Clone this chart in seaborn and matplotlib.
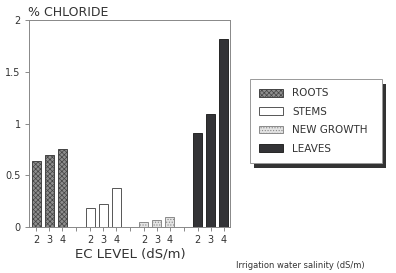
import matplotlib
matplotlib.use("Agg")
import matplotlib.pyplot as plt
from matplotlib.patches import Patch, Rectangle
import seaborn as sns
import pandas as pd

tissues = ["ROOTS", "STEMS", "NEW GROWTH", "LEAVES"]
ec_levels = ["2", "3", "4"]
roots = [0.64, 0.70, 0.75]
stems = [0.18, 0.22, 0.38]
new_growth = [0.05, 0.065, 0.10]
leaves = [0.91, 1.09, 1.82]
y_ticks = [0, 0.5, 1, 1.5, 2]
y_tick_labels = ["0", "0.5", "1", "1.5", "2"]

series = {"ROOTS": roots, "STEMS": stems, "NEW GROWTH": new_growth, "LEAVES": leaves}
rows = []
for t in tissues:
    for ec, v in zip(ec_levels, series[t]):
        rows.append({"tissue": t, "ec": ec, "value": v})
df = pd.DataFrame(rows)

styles = {
    "ROOTS": dict(facecolor="#8e8e8e", edgecolor="#444444", hatch="xxxxxxx"),
    "STEMS": dict(facecolor="white", edgecolor="#555555", hatch=None),
    "NEW GROWTH": dict(facecolor="#e4e4e4", edgecolor="#8a8a8a", hatch="......"),
    "LEAVES": dict(facecolor="#333336", edgecolor="#262626", hatch=None),
}

sns.set_style("white")
plt.rcParams["font.family"] = ["DejaVu Sans"]
plt.rcParams["hatch.linewidth"] = 0.5

fig = plt.figure(figsize=(3.96, 2.73), dpi=100)
ax = fig.add_axes([29 / 396, 1 - 227 / 273, (230 - 29) / 396, (227 - 20) / 273])

sns.barplot(data=df, x="tissue", y="value", hue="ec", order=tissues,
            hue_order=ec_levels, width=0.726, gap=0.31, legend=False, ax=ax)

centers = []
for p in ax.patches:
    cx = p.get_x() + p.get_width() / 2
    t = tissues[int(round(cx))]
    st = styles[t]
    p.set_facecolor(st["facecolor"])
    p.set_edgecolor(st["edgecolor"])
    p.set_linewidth(0.7)
    if st["hatch"]:
        p.set_hatch(st["hatch"])
    centers.append(cx)

order = sorted(range(len(centers)), key=lambda i: centers[i])
tick_pos = [centers[i] for i in order]
n = len(ec_levels)
tick_lab = [ec_levels[k % n] for k in range(len(tick_pos))]

ax.set_xlim(-0.38, 3.36)
ax.set_ylim(0, 2)
ax.set_xticks(tick_pos)
ax.set_xticklabels(tick_lab, fontsize=7, color="#333333")
ax.set_xticks([0.5, 1.5, 2.5], minor=True)
ax.set_yticks(y_ticks)
ax.set_yticklabels(y_tick_labels, fontsize=7, color="#333333")
ax.tick_params(axis="both", which="both", direction="out", length=3, width=0.6,
               color="#777777", bottom=True, left=True, pad=3)
ax.set_xlabel("")
ax.set_ylabel("")
for s in ax.spines.values():
    s.set_visible(True)
    s.set_color("#888888")
    s.set_linewidth(0.7)

fig.text(28 / 396, 1 - 12 / 273, "% CHLORIDE", fontsize=9, color="#333333",
         ha="left", va="center")
fig.text(130 / 396, 1 - 254 / 273, "EC LEVEL (dS/m)", fontsize=9.5, color="#333333",
         ha="center", va="center")
fig.text(300 / 396, 1 - 265 / 273, "Irrigation water salinity (dS/m)", fontsize=6,
         color="#333333", ha="center", va="center")

handles = [Patch(facecolor=styles[t]["facecolor"], edgecolor=styles[t]["edgecolor"],
                 hatch=styles[t]["hatch"], linewidth=0.7, label=t) for t in tissues]
x0, x1 = 250 / 396, 382 / 396
ytop = 1 - 79 / 273
leg = fig.legend(handles=handles, loc="upper left", mode="expand",
                 bbox_to_anchor=(x0, ytop - 0.3, x1 - x0, 0.3), bbox_transform=fig.transFigure,
                 fontsize=7.5, frameon=True, fancybox=False, framealpha=1,
                 borderpad=0.9, handlelength=2.3, handleheight=0.75, handletextpad=0.85,
                 labelspacing=0.81, borderaxespad=0)
leg.get_frame().set_edgecolor("#999999")
leg.get_frame().set_linewidth(0.7)
leg.get_frame().set_facecolor("white")
for txt in leg.get_texts():
    txt.set_color("#333333")

fig.canvas.draw()
bb = leg.get_window_extent()
shadow = Rectangle((bb.x0 + 4, bb.y0 - 5), bb.width, bb.height, transform=None,
                   facecolor="#333333", edgecolor="none", zorder=leg.get_zorder() - 1)
fig.patches.append(shadow)

fig.savefig("out.png", dpi=100, facecolor="white")
